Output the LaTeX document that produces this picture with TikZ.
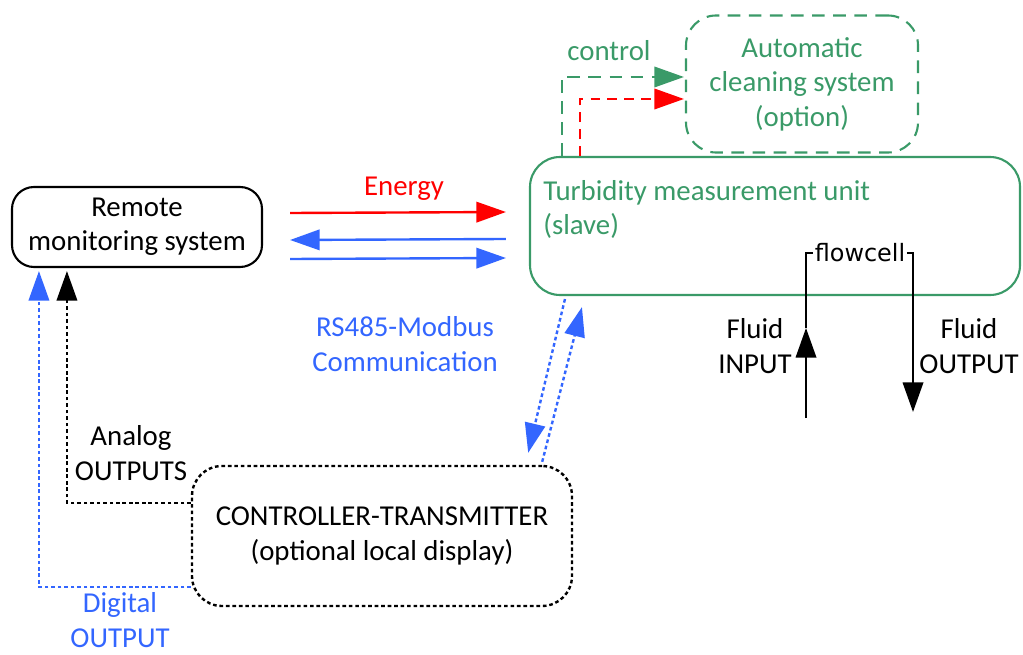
\documentclass[tikz,border=0pt]{standalone}
\usepackage{fontspec}
\setmainfont{Carlito}
\newfontfamily\flowfont{DejaVu Sans}
\usetikzlibrary{arrows.meta, calc}
\definecolor{TurbGreen}{HTML}{3A9A68}
\definecolor{ModbusBlue}{HTML}{3366FF}
\definecolor{EnergyRed}{HTML}{FF0000}
\tikzset{
    % Box styles - rounded corners
    unitbox/.style={
        rectangle,
        rounded corners=30*0.025cm,
        line width=1.5pt,
        inner sep=0pt
    },
    remotebox/.style={
        unitbox,
        draw=black,
        rounded corners=22*0.025cm,
        minimum width=250*0.025cm,
        minimum height=80*0.025cm,
        align=center
    },
    turbbox/.style={
        unitbox,
        draw=TurbGreen,
        minimum width=490*0.025cm,
        minimum height=138*0.025cm
    },
    cleanbox/.style={
        unitbox,
        draw=TurbGreen,
        dash pattern=on 9pt off 6pt,
        minimum width=232*0.025cm,
        minimum height=137*0.025cm,
        text=TurbGreen,
        align=center
    },
    ctrlbox/.style={
        unitbox,
        draw=black,
        line width=1.7pt,
        dash pattern=on 2.6pt off 2pt,
        minimum width=380*0.025cm,
        minimum height=140*0.025cm,
        align=center
    },
    label/.style={
        align=center,
        inner sep=0pt
    },
    % Arrow styles
    tip/.style={
        -{Triangle[length=21pt, width=14.5pt]}
    },
    energyarrow/.style={
        tip,
        line width=1.7pt,
        draw=EnergyRed
    },
    modbusarrow/.style={
        tip,
        line width=1.7pt,
        draw=ModbusBlue
    },
    ctrlarrow/.style={
        tip,
        line width=1.6pt,
        dash pattern=on 9pt off 6pt,
        draw=TurbGreen
    },
    dotarrow/.style={
        tip,
        line width=1.7pt,
        dash pattern=on 2.6pt off 2pt
    },
    flowarrow/.style={
        tip,
        line width=1.6pt,
        draw=black
    }
}

\begin{document}
\begin{tikzpicture}[x=0.025cm, y=-0.025cm, font=\fontsize{20.5}{24.5}\selectfont]
    \useasboundingbox (0,0) rectangle (1023,655);

    % Main boxes
    \node[remotebox] (remote) at (137,227) {Remote\\monitoring system};
    \node[turbbox] (turb) at (775,226) {};
    \node[label, text=TurbGreen, align=left, anchor=north west] (turbtext) at (543,180)
        {Turbidity measurement unit\\(slave)};
    \node[cleanbox] (clean) at (802,84) {Automatic\\cleaning system\\(option)};
    \node[ctrlbox] (ctrl) at (382,536) {CONTROLLER-TRANSMITTER\\(optional local display)};

    % Energy and communication
    \node[label, text=EnergyRed] (energy) at (404,189) {Energy};
    \draw[energyarrow] ($(remote.east)+(27,-14)$) -- ($(turb.west)+(-23,-14)$);
    \draw[modbusarrow] ($(turb.west)+(-23,13)$) -- ($(remote.east)+(27,13)$);
    \draw[modbusarrow] ($(remote.east)+(27,32)$) -- ($(turb.west)+(-23,32)$);
    \node[label, text=ModbusBlue] (modbus) at (405,344) {RS485-Modbus\\Communication};

    % Cleaning control
    \node[label, text=TurbGreen] (control) at (609,51) {control};
    \draw[ctrlarrow] ($(turb.north west)+(33,0)$) |- ($(clean.west)+(-1,-7)$);
    \draw[ctrlarrow, draw=EnergyRed, dash pattern=on 7pt off 5pt] ($(turb.north west)+(51,0)$) |- ($(clean.west)+(-1,15)$);

    % Controller link
    \draw[dotarrow, draw=ModbusBlue] ($(turb.south west)+(36,3)$) -- ($(ctrl.north east)+(-45,-12)$);
    \draw[dotarrow, draw=ModbusBlue] ($(ctrl.north east)+(-31,-3)$) -- ($(turb.south west)+(53,11)$);

    % Outputs
    \draw[dotarrow, draw=black] ($(ctrl.west)+(0,-33)$) -| ($(remote.south west)+(56,3)$);
    \draw[dotarrow, draw=ModbusBlue] ($(ctrl.west)+(0,51)$) -| ($(remote.south west)+(28,3)$);
    \node[label] (analog) at (131,453) {Analog\\OUTPUTS};
    \node[label, text=ModbusBlue] (digital) at (120,620) {Digital\\OUTPUT};

    % Flowcell
    \node[inner sep=1pt, font=\flowfont\fontsize{17}{20}\selectfont] (fc) at (860,253) {flowcell};
    \coordinate (inbot) at (806,418);
    \coordinate (inmid) at (806,328);
    \coordinate (outbot) at (913,412);
    \draw[flowarrow] (inbot) -- (inmid);
    \draw[line width=1.6pt] (inmid) |- (fc.west);
    \draw[flowarrow] (fc.east) -| (outbot);
    \node[label] (fluidin) at (755,346) {Fluid\\INPUT};
    \node[label] (fluidout) at (969,346) {Fluid\\OUTPUT};
\end{tikzpicture}
\end{document}
